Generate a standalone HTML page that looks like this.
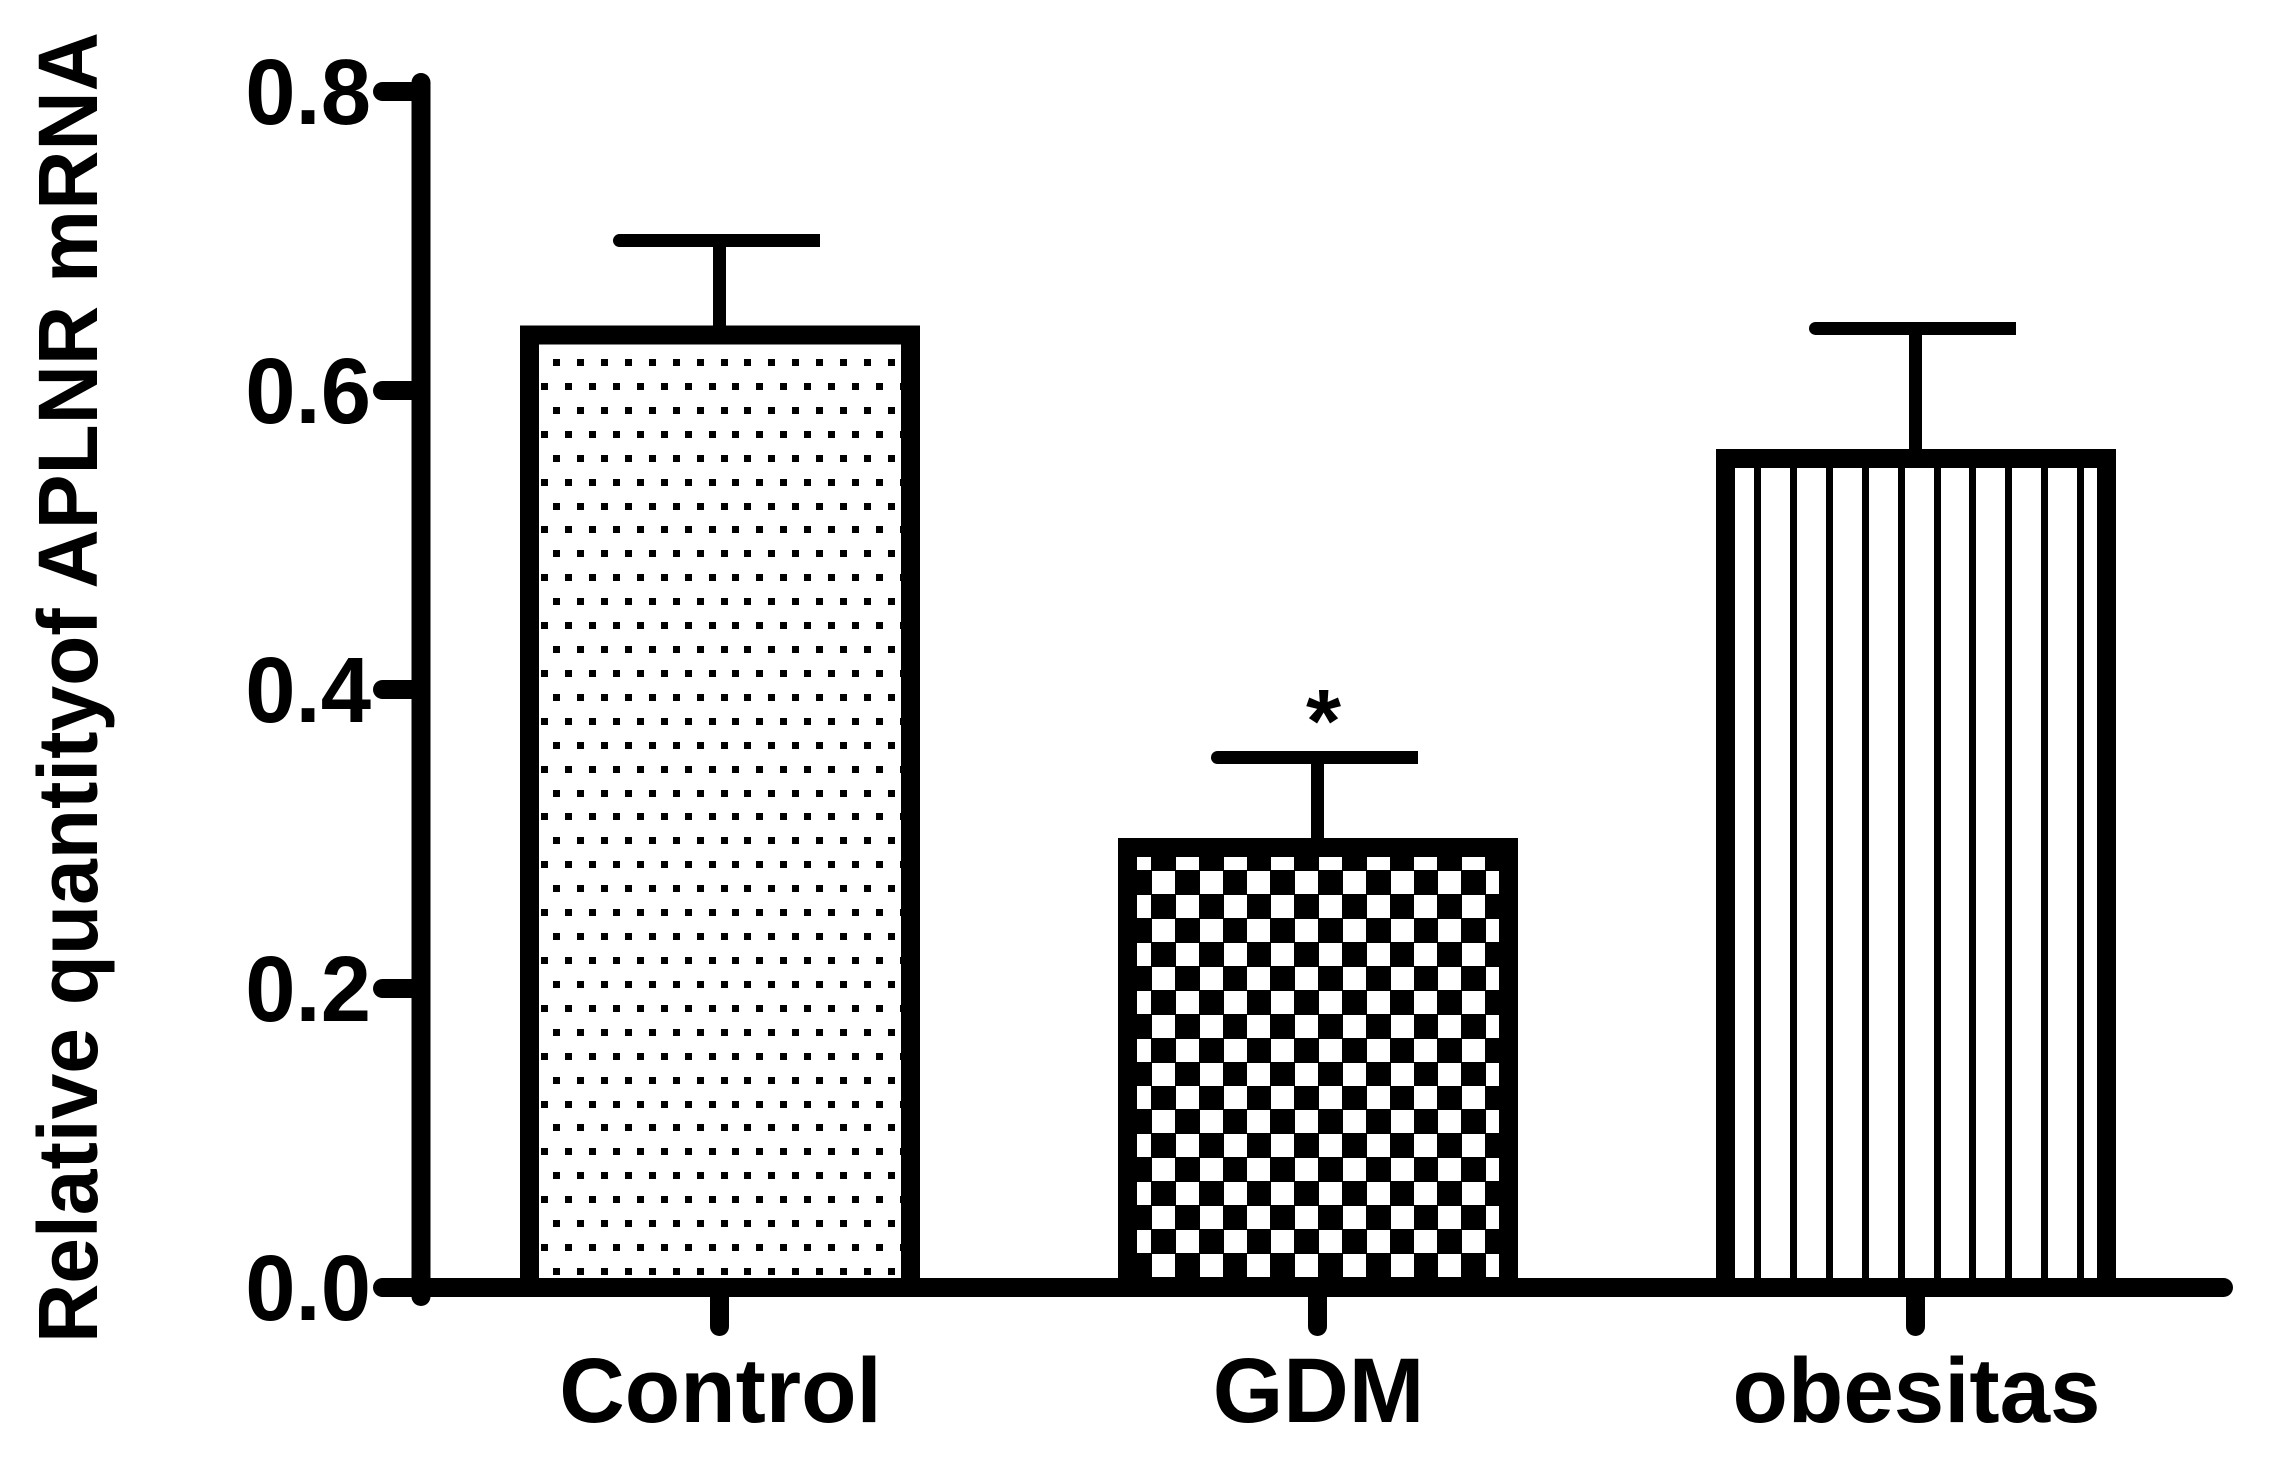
<!DOCTYPE html>
<html lang="en">
<head>
<meta charset="utf-8">
<title>Relative quantity of APLNR mRNA</title>
<style>
html,body{margin:0;padding:0;background:#fff;}
svg{display:block;}
text{font-family:"Liberation Sans",Arial,sans-serif;font-weight:700;fill:#000;}
</style>
</head>
<body>
<svg id="chart" xmlns="http://www.w3.org/2000/svg" width="2272" height="1466" viewBox="0 0 2272 1466">
  <rect x="0" y="0" width="2272" height="1466" fill="#fff"/>
  <defs id="defs"></defs>
  <g id="bars"></g>
  <g id="errors"></g>
  <g id="axes"></g>
  <g id="labels"></g>
  <text transform="translate(97,1343) rotate(-90) scale(1,1.03)" font-size="82" textLength="1311" lengthAdjust="spacingAndGlyphs">Relative quantityof APLNR mRNA</text>
  <text x="1323.5" y="752" font-size="90" text-anchor="middle">*</text>
</svg>
<script>
const categories = ['Control', 'GDM', 'obesitas'];
const means = [0.637, 0.2943, 0.5545];
const errors = [0.0633, 0.0602, 0.087];
const barPatterns = ['dots', 'checker', 'stripes'];
const yTicks = [0, 0.2, 0.4, 0.6, 0.8];
const yTickLabels = ['0.0', '0.2', '0.4', '0.6', '0.8'];

const SVGNS = 'http://www.w3.org/2000/svg';
const Y0 = 1287.5, Y_PER_UNIT = 1495, X0 = 719.5, X_STEP = 598;
const LINE = 19, ERR = 13;
function yPos(v) { return Y0 - v * Y_PER_UNIT; }
function xPos(i) { return X0 + i * X_STEP; }
function make(tag, attrs, parent) {
  const n = document.createElementNS(SVGNS, tag);
  for (const k in attrs) n.setAttribute(k, attrs[k]);
  parent.appendChild(n);
  return n;
}
const gBars = document.getElementById('bars');
const gErr = document.getElementById('errors');
const gAxes = document.getElementById('axes');
const gLabels = document.getElementById('labels');
const defs = document.getElementById('defs');

function fillDots(g, x0, y0, x1, y1) {
  // bitmap-like hatch: 7px dots on a staggered grid anchored to the page
  for (let r = -20; r < 60; r++) {
    const y = 359 + Math.round(r * 23.92);
    const odd = ((r % 2) + 2) % 2 === 1;
    for (let c = -4; c < 90; c++) {
      const x = (odd ? 541 : 553) + Math.round(c * 23.93);
      if (x + 7 < x0 || x > x1 || y + 7 < y0 || y > y1) continue;
      const d = make('rect', { x: x, y: y, width: 7, height: 7, fill: '#000' }, g);
      
      
    }
  }
}
function fillChecker(g, x0, y0, x1, y1) {
  const bg = make('rect', { x: x0, y: y0, width: x1 - x0, height: y1 - y0, fill: '#000' }, g);
  
  
  for (let r = -36; r < 30; r++) {
    const y = 871 + Math.round(r * 23.94);
    for (let c = -4; c < 20; c++) {
      if (((r + c) % 2 + 2) % 2 !== 0) continue;
      const x = 1152 + Math.round(c * 23.86);
      if (x + 23 < x0 || x > x1 || y + 23 < y0 || y > y1) continue;
      const w = make('rect', { x: x, y: y, width: 23, height: 23, fill: '#fff' }, g);
      
      
    }
  }
}
function fillStripes(g, x0, y0, x1, y1) {
  for (let c = 0; c < 12; c++) {
    const x = 1754 + Math.round(c * 35.9);
    if (x + 7 < x0 || x > x1) continue;
    const s = make('rect', { x: x, y: y0, width: 7, height: y1 - y0, fill: '#000' }, g);
    
    
  }
}
const fillers = { dots: fillDots, checker: fillChecker, stripes: fillStripes };

categories.forEach(function (name, i) {
  const left = xPos(i) - 199.5;
  const right = xPos(i) + 200.5;
  const top = yPos(means[i]) - LINE / 2;
  const innerL = left + LINE, innerR = right - LINE, innerT = top + LINE;

  const bar = make('g', { 'shape-rendering': 'crispEdges' }, gBars);
  
  

  const clipId = 'clip-' + i;
  const clip = make('clipPath', { id: clipId }, defs);
  make('rect', { x: innerL, y: innerT, width: innerR - innerL, height: Y0 - innerT }, clip);
  const fillG = make('g', { 'clip-path': 'url(#' + clipId + ')' }, bar);
  
  
  fillers[barPatterns[i]](fillG, innerL, innerT, innerR, Y0);

  const border = make('path', {
    d: 'M' + left + ' ' + Y0 + 'V' + top + 'H' + right + 'V' + Y0 + 'H' + innerR + 'V' + innerT + 'H' + innerL + 'V' + Y0 + 'Z',
    fill: '#000'
  }, bar);
  
  

  // error bar
  const x = xPos(i);
  const yTop = yPos(means[i] + errors[i]);
  const eb = make('g', { 'shape-rendering': 'crispEdges' }, gErr);
  
  
  const stem = make('rect', { x: x - ERR / 2, y: yTop, width: ERR, height: top - yTop + 1, fill: '#000' }, eb);
  
  
  const cap = make('rect', { x: x - 100, y: yTop - ERR / 2, width: 200.5, height: ERR, fill: '#000' }, eb);
  
  
  const capEnd = make('circle', { cx: x - 100, cy: yTop, r: ERR / 2, fill: '#000' }, gErr);
  
  

  // x tick and label
  const tick = make('line', { x1: x, y1: Y0, x2: x, y2: 1326.5, stroke: '#000', 'stroke-width': LINE, 'stroke-linecap': 'round' }, gAxes);
  
  
  const label = make('text', { transform: 'translate(' + (x + 1) + ',1422) scale(1.008,1.025)', 'font-size': 90, 'text-anchor': 'middle' }, gLabels);
  label.textContent = name;
  
  
});

const yAxis = make('line', { x1: 421, y1: yPos(0.8) - 9, x2: 421, y2: Y0 + 9, stroke: '#000', 'stroke-width': LINE, 'stroke-linecap': 'round' }, gAxes);


const xAxis = make('line', { x1: 421, y1: Y0, x2: 2223.5, y2: Y0, stroke: '#000', 'stroke-width': LINE, 'stroke-linecap': 'round' }, gAxes);



yTicks.forEach(function (v, i) {
  const y = yPos(v);
  const t = make('line', { x1: 382.5, y1: y, x2: 421, y2: y, stroke: '#000', 'stroke-width': LINE, 'stroke-linecap': 'round' }, gAxes);
  
  
  const l = make('text', { transform: 'translate(371,' + (y + 32.5) + ') scale(1.005,1.035)', 'font-size': 90, 'text-anchor': 'end' }, gLabels);
  l.textContent = yTickLabels[i];
  
  
});
</script>
</body>
</html>
